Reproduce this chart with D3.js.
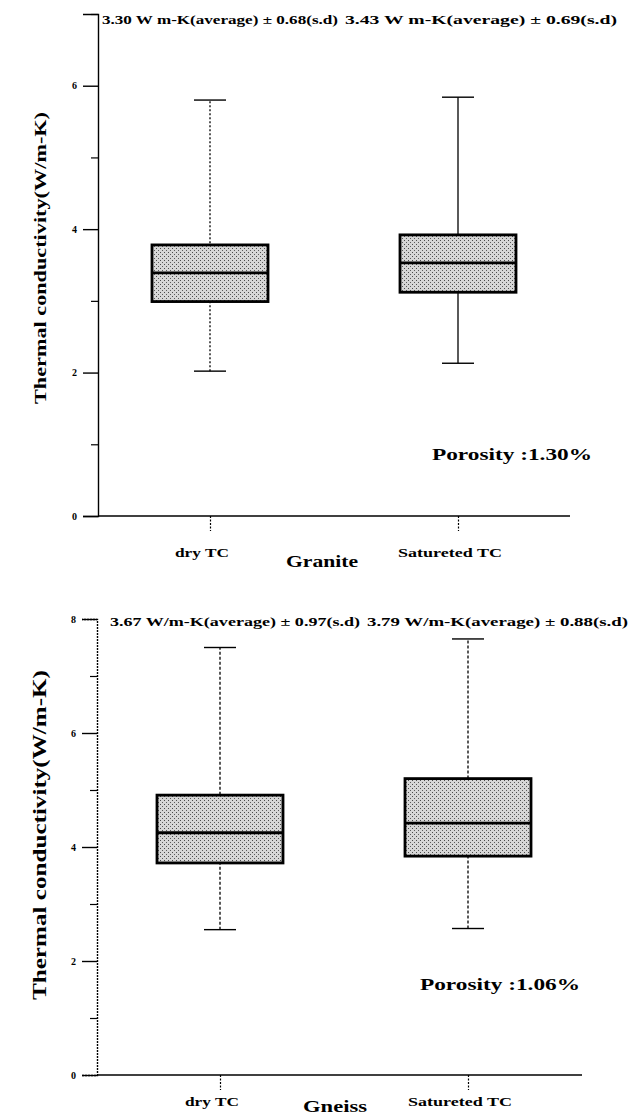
<!DOCTYPE html>
<html lang="en">
<head>
<meta charset="utf-8">
<title>Thermal conductivity - Granite / Gneiss</title>
<script src="https://d3js.org/d3.v7.min.js"></script>
<style>
  body { margin: 0; background: #fff; }
  svg text { font-family: "Liberation Serif", "Times New Roman", serif; font-weight: bold; fill: #000; }
  .axis path, .axis line { stroke: #000; }
</style>
</head>
<body>
<script>
// categories (x axis) and rock names
var categories = ["dry TC", "Satureted TC"];
var rockNames = ["Granite", "Gneiss"];

// box values per category: [min, Q1, median, Q3, max]
var graniteBoxes = [[2.02, 2.99, 3.39, 3.78, 5.80], [2.13, 3.12, 3.53, 3.92, 5.84]];
var gneissBoxes  = [[2.55, 3.72, 4.25, 4.91, 7.50], [2.57, 3.84, 4.42, 5.20, 7.65]];

// notes above each box
var graniteNotes = ["3.30 W m-K(average) \u00b1 0.68(s.d)", "3.43 W m-K(average) \u00b1 0.69(s.d)"];
var gneissNotes  = ["3.67 W/m-K(average) \u00b1 0.97(s.d)", "3.79 W/m-K(average) \u00b1 0.88(s.d)"];
var porosityLabels = ["Porosity :1.30%", "Porosity :1.06%"];

// y ticks
var graniteTicks = [0, 2, 4, 6];
var gneissTicks  = [0, 2, 4, 6, 8];
var minorTicks   = [1, 3, 5, 7];
var yMax = [7, 8];
var yTitle = "Thermal conductivity(W/m-K)";

var w = 632, h = 1119;

var svg = d3.select("body").append("svg")
    .attr("width", w)
    .attr("height", h);

// stippled grey fill of the boxes
var pat = svg.append("defs").append("pattern")
    .attr("id", "stipple")
    .attr("width", 4).attr("height", 4)
    .attr("patternUnits", "userSpaceOnUse");
pat.append("rect").attr("width", 4).attr("height", 4).attr("fill", "#d6d6d6");
pat.append("rect").attr("x", 0).attr("y", 0).attr("width", 1).attr("height", 1).attr("fill", "#4a4a4a");
pat.append("rect").attr("x", 2).attr("y", 2).attr("width", 1).attr("height", 1).attr("fill", "#5a5a5a");

// layout of the two panels
var panels = [
    { boxes: graniteBoxes, notes: graniteNotes, ticks: graniteTicks, max: yMax[0],
      x0: 98, x1: 570, y0: 516, y1: 14, centers: [210, 458], boxW: 116,
      noteX: [102, 345], noteY: 24, noteLen: [236, 272],
      porX: 432, porY: 460, labelY: 557, nameX: 322, nameY: 567, nameSize: 17,
      titleY: 258, titleLen: 292, titleSize: 17,
      dash: ["2,2", null], axisDash: null },
    { boxes: gneissBoxes, notes: gneissNotes, ticks: gneissTicks, max: yMax[1],
      x0: 97, x1: 582, y0: 1075, y1: 619, centers: [220, 468], boxW: 126,
      noteX: [110, 367], noteY: 626, noteLen: [250, 261],
      porX: 420, porY: 990, labelY: 1106, nameX: 335, nameY: 1112, nameSize: 16,
      titleY: 835, titleLen: 330, titleSize: 18,
      dash: ["3,2", "3,2"], axisDash: "2,1" }
];

panels.forEach(function(p, pi) {
    var g = svg.append("g");

    var yScale = d3.scaleLinear()
        .domain([0, p.max])
        .range([p.y0, p.y1]);

    var xScale = d3.scalePoint()
        .domain(categories)
        .range(p.centers);

    // y axis: major ticks with labels, minor ticks without
    var yAxis = d3.axisLeft(yScale)
        .tickValues(p.ticks)
        .tickSize(15)
        .tickPadding(6)
        .tickFormat(d3.format("d"));

    var yMinor = d3.axisLeft(yScale)
        .tickValues(minorTicks)
        .tickSize(7)
        .tickFormat("");

    g.append("g")
        .attr("class", "y axis")
        .attr("transform", "translate(" + p.x0 + ",0)")
        .call(yAxis)
        .call(function(a) {
            a.select(".domain").attr("stroke-width", 1.4).attr("stroke-dasharray", p.axisDash);
            a.selectAll(".tick line").attr("stroke-width", 1.4);
            a.selectAll(".tick text").attr("font-size", 10);
        });

    g.append("g")
        .attr("class", "y minor")
        .attr("transform", "translate(" + p.x0 + ",0)")
        .call(yMinor)
        .call(function(a) {
            a.select(".domain").remove();
            a.selectAll(".tick line").attr("stroke", "#000").attr("stroke-width", 1.2);
        });

    // x axis line and category ticks
    g.append("line")
        .attr("x1", p.x0).attr("x2", p.x1)
        .attr("y1", p.y0).attr("y2", p.y0)
        .attr("stroke", "#000")
        .attr("stroke-width", 1.4);

    g.append("g")
        .attr("class", "x axis")
        .attr("transform", "translate(0," + p.y0 + ")")
        .call(d3.axisBottom(xScale).tickSize(15).tickFormat(""))
        .call(function(a) {
            a.select(".domain").remove();
            a.selectAll(".tick line").attr("stroke-dasharray", "2,1.5").attr("stroke-width", 1.2);
        });

    // category labels
    g.selectAll(".cat")
        .data(categories)
        .enter()
        .append("text")
        .attr("class", "cat")
        .attr("x", function(d) { return xScale(d) - 8; })
        .attr("y", p.labelY)
        .attr("text-anchor", "middle")
        .attr("font-size", 13)
        .attr("textLength", function(d, i) { return i === 0 ? 54 : 104; })
        .attr("lengthAdjust", "spacingAndGlyphs")
        .text(function(d) { return d; });

    // rock name
    g.append("text")
        .attr("x", p.nameX)
        .attr("y", p.nameY)
        .attr("text-anchor", "middle")
        .attr("font-size", p.nameSize)
        .attr("textLength", pi === 0 ? 72 : 64)
        .attr("lengthAdjust", "spacingAndGlyphs")
        .text(rockNames[pi]);

    // whiskers
    var box = g.selectAll(".box")
        .data(p.boxes)
        .enter()
        .append("g")
        .attr("class", "box");

    box.append("line")
        .attr("x1", function(d, i) { return xScale(categories[i]); })
        .attr("x2", function(d, i) { return xScale(categories[i]); })
        .attr("y1", function(d) { return yScale(d[0]); })
        .attr("y2", function(d) { return yScale(d[4]); })
        .attr("stroke", "#000")
        .attr("stroke-width", 1.3)
        .attr("stroke-dasharray", function(d, i) { return p.dash[i]; });

    // whisker caps
    [0, 4].forEach(function(k) {
        box.append("line")
            .attr("x1", function(d, i) { return xScale(categories[i]) - 16; })
            .attr("x2", function(d, i) { return xScale(categories[i]) + 16; })
            .attr("y1", function(d) { return yScale(d[k]); })
            .attr("y2", function(d) { return yScale(d[k]); })
            .attr("stroke", "#000")
            .attr("stroke-width", 1.4);
    });

    // boxes
    box.append("rect")
        .attr("x", function(d, i) { return xScale(categories[i]) - p.boxW / 2; })
        .attr("y", function(d) { return yScale(d[3]); })
        .attr("width", p.boxW)
        .attr("height", function(d) { return yScale(d[1]) - yScale(d[3]); })
        .attr("fill", "url(#stipple)")
        .attr("stroke", "#000")
        .attr("stroke-width", 2.8);

    // medians
    box.append("line")
        .attr("x1", function(d, i) { return xScale(categories[i]) - p.boxW / 2; })
        .attr("x2", function(d, i) { return xScale(categories[i]) + p.boxW / 2; })
        .attr("y1", function(d) { return yScale(d[2]); })
        .attr("y2", function(d) { return yScale(d[2]); })
        .attr("stroke", "#000")
        .attr("stroke-width", 2.8);

    // notes (average, s.d)
    g.selectAll(".note")
        .data(p.notes)
        .enter()
        .append("text")
        .attr("class", "note")
        .attr("x", function(d, i) { return p.noteX[i]; })
        .attr("y", p.noteY)
        .attr("font-size", 12)
        .attr("textLength", function(d, i) { return p.noteLen[i]; })
        .attr("lengthAdjust", "spacingAndGlyphs")
        .text(function(d) { return d; });

    // porosity
    g.append("text")
        .attr("x", p.porX)
        .attr("y", p.porY)
        .attr("font-size", 16)
        .attr("textLength", 160)
        .attr("lengthAdjust", "spacingAndGlyphs")
        .text(porosityLabels[pi]);

    // y axis title
    g.append("text")
        .attr("transform", "translate(46," + p.titleY + ") rotate(-90)")
        .attr("text-anchor", "middle")
        .attr("font-size", p.titleSize)
        .attr("textLength", p.titleLen)
        .attr("lengthAdjust", "spacingAndGlyphs")
        .text(yTitle);
});
</script>
</body>
</html>
